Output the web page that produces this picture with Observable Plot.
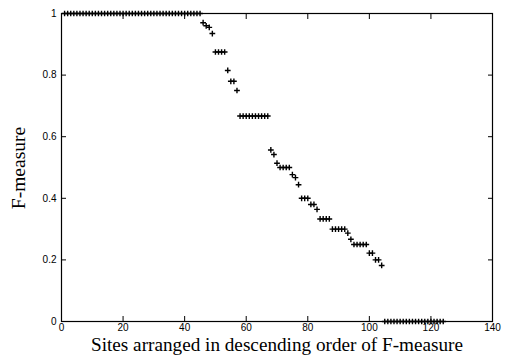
<!DOCTYPE html>
<html>
<head>
<meta charset="utf-8">
<script src="https://cdn.jsdelivr.net/npm/d3@7"></script>
<script src="https://cdn.jsdelivr.net/npm/@observablehq/plot@0.6"></script>
<style>
  html, body { margin: 0; padding: 0; background: #fff; }
  #chart { width: 505px; height: 355px; }
  svg { display: block; }
</style>
</head>
<body>
<div id="chart"></div>
<script>
// Site rank (1..124) and its F-measure
const fMeasure = [
  1,1,1,1,1,1,1,1,1,1,
  1,1,1,1,1,1,1,1,1,1,
  1,1,1,1,1,1,1,1,1,1,
  1,1,1,1,1,1,1,1,1,1,
  1,1,1,1,1,
  0.97, 0.96, 0.955, 0.935,
  0.875, 0.875, 0.875, 0.875,
  0.815, 0.78, 0.78, 0.75,
  0.667, 0.667, 0.667, 0.667, 0.667, 0.667, 0.667, 0.667, 0.667, 0.667,
  0.557, 0.542, 0.514,
  0.5, 0.5, 0.5, 0.5,
  0.477, 0.467, 0.444,
  0.4, 0.4, 0.4,
  0.38, 0.38, 0.364,
  0.333, 0.333, 0.333, 0.333,
  0.3, 0.3, 0.3, 0.3, 0.3,
  0.287, 0.267,
  0.25, 0.25, 0.25, 0.25, 0.25,
  0.222, 0.222, 0.2, 0.2, 0.182,
  0,0,0,0,0,0,0,0,0,0,
  0,0,0,0,0,0,0,0,0,0
];
const siteRank = fMeasure.map((_, i) => i + 1);
const xTicks = [0, 20, 40, 60, 80, 100, 120, 140];
const yTicks = [0, 0.2, 0.4, 0.6, 0.8, 1];
const xLabel = "Sites arranged in descending order of F-measure";
const yLabel = "F-measure";

const data = siteRank.map((s, i) => ({site: s, f: fMeasure[i]}));

const tickFont = "Liberation Sans, Arial, sans-serif";
const serif = "Liberation Serif, Times New Roman, serif";

const chart = Plot.plot({
  width: 505,
  height: 355,
  marginLeft: 61,
  marginRight: 13,
  marginTop: 13,
  marginBottom: 34,
  style: {fontFamily: tickFont, fontSize: "10px", color: "#000", background: "#fff"},
  x: {domain: [0, 140], label: null},
  y: {domain: [0, 1], label: null},
  marks: [
    Plot.axisX({anchor: "bottom", ticks: xTicks, tickSize: 0, tickPadding: 2, tickFormat: d => String(d)}),
    Plot.axisX({anchor: "bottom", ticks: xTicks, tickSize: 5, dy: -5, fill: "none", label: null}),
    Plot.axisX({anchor: "top", ticks: xTicks, tickSize: 5, dy: 5, fill: "none", label: null}),
    Plot.axisY({anchor: "left", ticks: yTicks, tickSize: 0, tickPadding: 5, tickFormat: d => String(d)}),
    Plot.axisY({anchor: "left", ticks: yTicks, tickSize: 5, dx: 5, fill: "none", label: null}),
    Plot.axisY({anchor: "right", ticks: yTicks, tickSize: 5, dx: -5, fill: "none", label: null}),
    Plot.frame({stroke: "#000", strokeWidth: 1.2}),
    Plot.dot(data, {x: "site", y: "f", symbol: "plus", r: 2, stroke: "#000", strokeWidth: 1.4, fill: "none"})
  ]
});

const svg = d3.select(chart);
svg.append("text")
  .attr("x", 21).attr("y", 168)
  .attr("transform", "rotate(-90 21 168)")
  .attr("text-anchor", "middle")
  .attr("dominant-baseline", "middle")
  .style("font-family", serif)
  .style("font-size", "19.5px")
  .attr("fill", "#000")
  .text(yLabel);
svg.append("text")
  .attr("x", 277).attr("y", 351)
  .attr("text-anchor", "middle")
  .attr("textLength", 372)
  .attr("lengthAdjust", "spacingAndGlyphs")
  .style("font-family", serif)
  .style("font-size", "18px")
  .attr("fill", "#000")
  .text(xLabel);

document.getElementById("chart").appendChild(chart);
</script>
</body>
</html>
